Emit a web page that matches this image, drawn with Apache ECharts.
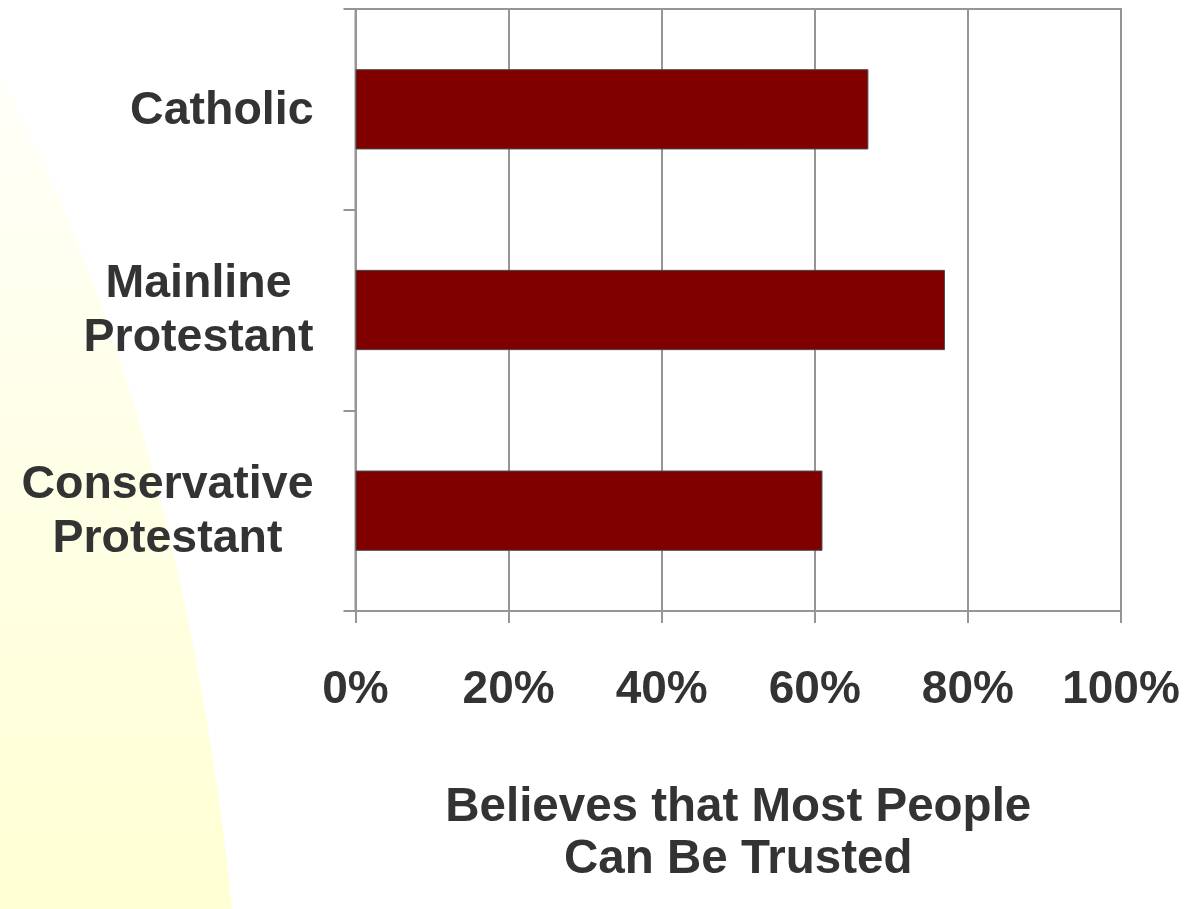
<!DOCTYPE html>
<html>
<head>
<meta charset="utf-8">
<script src="https://cdn.jsdelivr.net/npm/echarts@6/dist/echarts.min.js"></script>
<style>
html,body{margin:0;padding:0;background:#ffffff;}
#chart{width:1188px;height:909px;}
</style>
</head>
<body>
<div id="chart"></div>
<script>
const categories = ['Catholic', 'Mainline\nProtestant', 'Conservative\nProtestant'];
const trustValues = [67, 77, 61];
const axisTitle = 'Believes that Most People\nCan Be Trusted';
const xTickValues = [0, 20, 40, 60, 80, 100];

const chart = echarts.init(document.getElementById('chart'), null, {renderer: 'canvas'});
const FONT = '"Liberation Sans", Arial, sans-serif';
const GRID_COLOR = '#959595';

const option = {
  backgroundColor: '#ffffff',
  animation: false,
  graphic: [{
    type: 'ellipse',
    z: -10,
    silent: true,
    shape: {cx: -400, cy: 1260, rx: 650, ry: 1500},
    style: {
      fill: {
        type: 'linear', global: true,
        x: 0, y: 90, x2: 0, y2: 909,
        colorStops: [
          {offset: 0, color: '#FFFFF8'},
          {offset: 1, color: '#FFFFD3'}
        ]
      }
    }
  }],
  grid: {
    left: 355.5, right: 67, top: 9, bottom: 298,
    show: true,
    backgroundColor: '#ffffff',
    borderColor: GRID_COLOR,
    borderWidth: 2
  },
  xAxis: {
    type: 'value',
    min: 0, max: 100, interval: 20,
    axisLine: {show: true, lineStyle: {color: GRID_COLOR, width: 2}},
    axisTick: {show: true, length: 12, lineStyle: {color: GRID_COLOR, width: 2}},
    splitLine: {show: true, lineStyle: {color: GRID_COLOR, width: 2}},
    axisLabel: {
      formatter: v => v + '%',
      fontFamily: FONT, fontWeight: 'bold', fontSize: 46, color: '#333333',
      margin: 56
    },
    name: axisTitle,
    nameLocation: 'middle',
    nameGap: 171,
    nameTextStyle: {
      fontFamily: FONT, fontWeight: 'bold', fontSize: 47.5, color: '#333333',
      lineHeight: 52, align: 'center'
    }
  },
  yAxis: {
    type: 'category',
    data: categories,
    inverse: true,
    axisLine: {show: true, lineStyle: {color: GRID_COLOR, width: 2}},
    axisTick: {show: true, length: 12, lineStyle: {color: GRID_COLOR, width: 2}},
    splitLine: {show: false},
    axisLabel: {
      margin: 42,
      align: 'right',
      formatter: v => v.split('\n').map(s => '{c|' + s + '}').join('\n'),
      rich: {
        c: {
          align: 'center',
          fontFamily: FONT, fontWeight: 'bold', fontSize: 46.5, color: '#333333',
          lineHeight: 54,
          padding: [3, 0, 0, 0]
        }
      }
    }
  },
  series: [{
    type: 'bar',
    data: trustValues,
    barWidth: '40%',
    itemStyle: {color: '#800000', borderColor: '#4a4a4a', borderWidth: 1}
  }]
};
chart.setOption(option);
</script>
</body>
</html>
